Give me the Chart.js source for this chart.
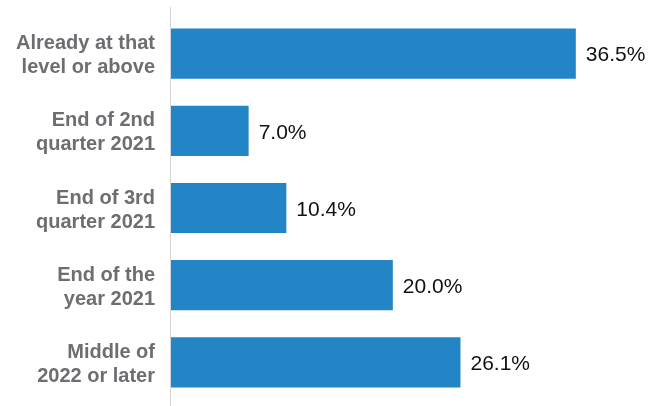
<!DOCTYPE html>
<html>
<head>
<meta charset="utf-8">
<script src="https://cdn.jsdelivr.net/npm/chart.js@4"></script>
<style>
  html, body { margin: 0; padding: 0; background: #fff; }
  #wrap { width: 660px; height: 406px; position: relative; }
</style>
</head>
<body>
<div id="wrap"><canvas id="timingChart"></canvas></div>
<script>
// When do you expect to get back to pre-crisis level?
const categories = [
  ['Already at that', 'level or above'],
  ['End of 2nd', 'quarter 2021'],
  ['End of 3rd', 'quarter 2021'],
  ['End of the', 'year 2021'],
  ['Middle of', '2022 or later'],
];
const shares = [36.5, 7.0, 10.4, 20.0, 26.1];

const BAR_COLOR = '#2485c6';
const LABEL_COLOR = '#6d6e71';
const VALUE_COLOR = '#111111';
const AXIS_LEFT = 171;

// value text just past the end of each bar
const valueLabels = {
  id: 'valueLabels',
  afterDatasetsDraw(chart) {
    const ctx = chart.ctx;
    const meta = chart.getDatasetMeta(0);
    ctx.save();
    ctx.font = '21px "Liberation Sans", Arial, sans-serif';
    ctx.fillStyle = VALUE_COLOR;
    ctx.textAlign = 'left';
    ctx.textBaseline = 'middle';
    meta.data.forEach((bar, i) => {
      ctx.fillText(shares[i].toFixed(1) + '%', bar.x + 10, bar.y + 2);
    });
    ctx.restore();
  },
};

// thin baseline running the full height of the canvas
const baseLine = {
  id: 'baseLine',
  beforeDatasetsDraw(chart) {
    const ctx = chart.ctx;
    const x = chart.scales.x.getPixelForValue(0) - 0.5;
    ctx.save();
    ctx.strokeStyle = '#d4d4d4';
    ctx.lineWidth = 1;
    ctx.beginPath();
    ctx.moveTo(x, 7);
    ctx.lineTo(x, chart.height);
    ctx.stroke();
    ctx.restore();
  },
};

new Chart(document.getElementById('timingChart'), {
  type: 'bar',
  data: {
    labels: categories,
    datasets: [{
      data: shares,
      backgroundColor: BAR_COLOR,
      borderWidth: 0,
      barPercentage: 0.65,
      categoryPercentage: 1,
    }],
  },
  options: {
    indexAxis: 'y',
    responsive: true,
    maintainAspectRatio: false,
    animation: false,
    layout: { padding: { top: 15, bottom: 5, left: 0, right: 1 } },
    plugins: { legend: { display: false }, tooltip: { enabled: false } },
    scales: {
      x: { display: false, min: 0, max: 44 },
      y: {
        grid: { display: false, drawTicks: false },
        border: { display: false },
        afterFit(scale) {
          scale.width = AXIS_LEFT;
          // two-line labels would otherwise reserve extra room above and below
          scale.paddingTop = 0;
          scale.paddingBottom = 0;
        },
        ticks: {
          padding: 16,
          labelOffset: 2,
          color: LABEL_COLOR,
          font: { family: '"Liberation Sans", Arial, sans-serif', size: 20, weight: 'bold', lineHeight: 1.2 },
        },
      },
    },
  },
  plugins: [valueLabels, baseLine],
});
</script>
</body>
</html>
